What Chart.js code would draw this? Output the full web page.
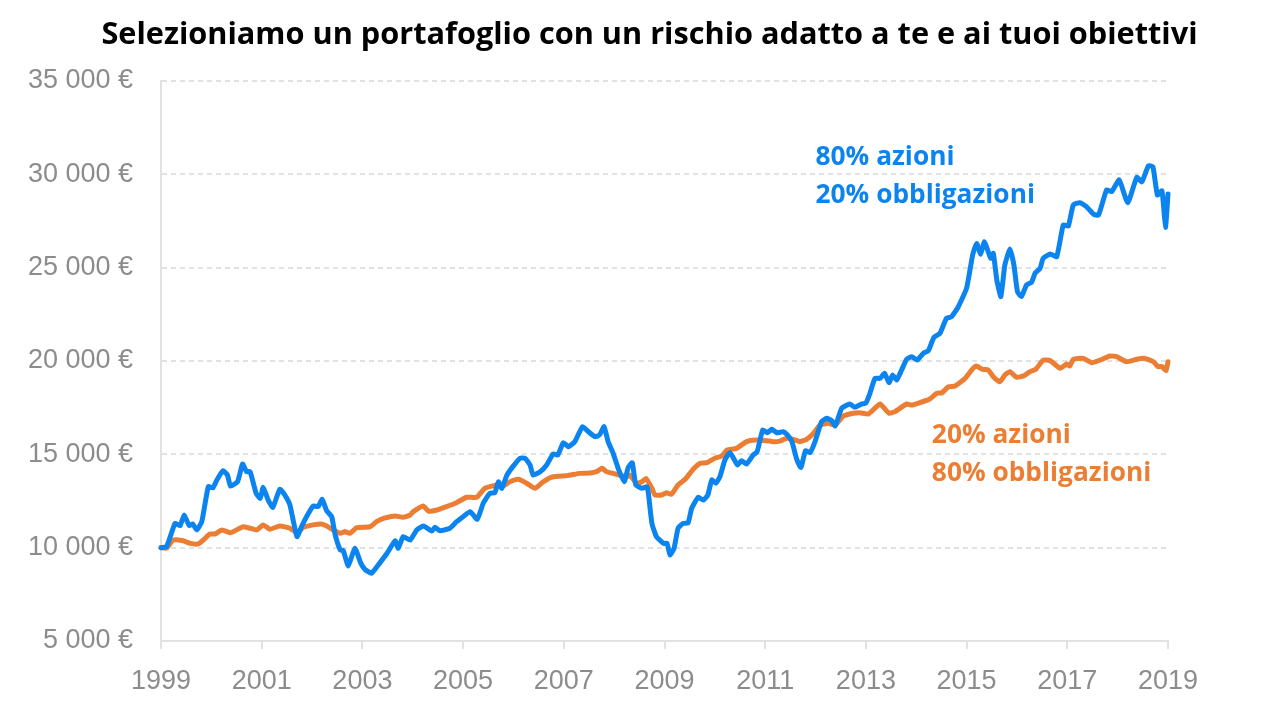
<!DOCTYPE html>
<html>
<head>
<meta charset="utf-8">
<script src="https://cdn.jsdelivr.net/npm/chart.js@4.4.1/dist/chart.umd.min.js"></script>
<style>
  html, body { margin: 0; padding: 0; background: #ffffff; }
  #wrap { width: 1273px; height: 726px; }
</style>
</head>
<body>
<div id="wrap"><canvas id="c" width="1273" height="726"></canvas></div>
<script>
// ---- DATA ----
const chartTitle = "Selezioniamo un portafoglio con un rischio adatto a te e ai tuoi obiettivi";

const xTickYears = [1999, 2001, 2003, 2005, 2007, 2009, 2011, 2013, 2015, 2017, 2019];
const yTickValues = [5000, 10000, 15000, 20000, 25000, 30000, 35000];

const seriesNames = ["80% azioni / 20% obbligazioni", "20% azioni / 80% obbligazioni"];

// 80% azioni / 20% obbligazioni
const aggressiveYears = [
  1999.00,1999.11,1999.28,1999.38,1999.46,1999.56,1999.63,1999.71,1999.81,1999.94,
  2000.03,2000.11,2000.23,2000.32,2000.38,2000.52,2000.62,2000.70,2000.77,2000.89,2000.97,
  2001.03,2001.13,2001.22,2001.36,2001.46,2001.56,2001.70,2001.79,2001.89,
  2002.02,2002.12,2002.20,2002.29,2002.39,2002.46,2002.56,2002.62,2002.72,2002.85,2002.97,
  2003.05,2003.18,2003.35,2003.49,2003.65,2003.71,2003.81,2003.95,
  2004.08,2004.21,2004.38,2004.44,2004.54,2004.74,2004.87,
  2005.00,2005.14,2005.28,2005.40,2005.53,2005.63,2005.70,2005.77,2005.87,
  2006.00,2006.13,2006.23,2006.33,2006.39,2006.53,2006.66,2006.79,2006.88,2006.99,
  2007.09,2007.22,2007.37,2007.49,2007.62,2007.71,2007.80,2007.88,2007.98,
  2008.08,2008.20,2008.28,2008.36,2008.43,2008.55,2008.65,2008.68,2008.75,2008.84,2008.98,
  2009.05,2009.11,2009.19,2009.27,2009.37,2009.47,2009.54,2009.67,2009.77,2009.86,2009.94,
  2010.02,2010.10,2010.20,2010.30,2010.45,2010.53,2010.63,2010.76,2010.84,2010.95,
  2011.04,2011.13,2011.23,2011.36,2011.44,2011.53,2011.63,2011.71,2011.80,2011.89,2011.99,
  2012.12,2012.22,2012.32,2012.39,2012.52,2012.68,2012.78,2012.92,
  2013.00,2013.08,2013.18,2013.28,2013.37,2013.46,2013.53,2013.61,2013.71,2013.81,2013.91,
  2014.02,2014.14,2014.24,2014.35,2014.47,2014.60,2014.70,2014.83,
  2015.00,2015.12,2015.20,2015.28,2015.35,2015.43,2015.48,2015.53,2015.60,2015.68,2015.76,2015.86,2015.94,
  2016.01,2016.09,2016.19,2016.29,2016.36,2016.46,2016.52,2016.66,2016.79,2016.92,
  2017.02,2017.12,2017.25,2017.38,2017.52,2017.62,2017.78,2017.88,
  2018.03,2018.20,2018.38,2018.48,2018.61,2018.70,2018.79,2018.88,2018.95,2019.00
];
const aggressiveValues = [
  10000,10050,11300,11180,11750,11180,11270,10950,11390,13270,
  13200,13625,14120,13890,13300,13530,14480,14070,14070,12910,12640,
  13230,12550,12160,13130,12820,12290,10590,11120,11660,
  12230,12200,12590,11980,11660,10680,9875,9840,9020,9970,9160,
  8840,8630,9200,9700,10370,9970,10590,10410,
  10950,11160,10890,11090,10910,11040,11390,
  11660,11930,11520,12380,12910,12940,13530,13180,13890,
  14380,14790,14790,14430,13890,14070,14430,15020,14960,15620,
  15410,15680,16480,16210,15945,16040,16480,15680,15055,
  14250,13530,14300,14550,13360,13180,13270,12910,11300,10590,10230,
  10230,9610,9970,11040,11300,11340,12110,12700,12550,12820,13630,
  13450,13800,14700,15090,14430,14660,14480,14960,15140,16300,
  16160,16340,16160,16210,16040,15680,14700,14300,15195,15090,15680,
  16750,16930,16800,16520,17470,17700,17520,17700,
  17750,18270,19070,19070,19340,18840,19250,18980,19520,20090,20230,
  20050,20410,20550,21270,21480,22290,22370,22880,
  23900,25680,26300,25720,26390,25850,25500,25770,24340,23450,25140,26000,25140,
  23710,23450,24070,24220,24700,24970,25500,25730,25590,27290,
  27230,28360,28480,28270,27870,27820,29160,29070,
  29700,28480,29840,29600,30450,30410,28890,29120,27160,28950
];

// 20% azioni / 80% obbligazioni
const conservativeYears = [
  1999.00,1999.11,1999.24,1999.44,1999.58,1999.74,1999.84,1999.97,
  2000.07,2000.21,2000.37,2000.47,2000.63,2000.77,2000.90,
  2001.03,2001.16,2001.36,2001.56,2001.70,2001.83,
  2002.02,2002.19,2002.29,2002.42,2002.56,2002.65,2002.75,2002.89,
  2003.15,2003.28,2003.42,2003.65,2003.81,2003.95,
  2004.01,2004.21,2004.31,2004.48,2004.67,2004.87,
  2005.07,2005.27,2005.43,2005.67,2005.77,2005.93,
  2006.10,2006.26,2006.43,2006.59,2006.79,
  2007.06,2007.32,2007.52,2007.65,2007.76,2007.85,
  2008.05,2008.25,2008.31,2008.45,2008.55,2008.63,2008.75,2008.81,2008.94,
  2009.04,2009.14,2009.27,2009.41,2009.57,2009.71,2009.84,
  2010.00,2010.14,2010.24,2010.43,2010.63,2010.80,
  2011.03,2011.16,2011.29,2011.43,2011.56,2011.69,2011.82,2011.96,
  2012.09,2012.25,2012.39,2012.55,2012.75,2012.88,
  2013.05,2013.18,2013.28,2013.46,2013.58,2013.81,2013.91,
  2014.07,2014.26,2014.41,2014.51,2014.64,2014.77,2014.97,
  2015.10,2015.19,2015.32,2015.43,2015.53,2015.66,2015.76,2015.86,2015.99,
  2016.13,2016.26,2016.38,2016.52,2016.66,2016.86,2016.99,
  2017.05,2017.12,2017.32,2017.48,2017.65,2017.85,2017.98,
  2018.18,2018.38,2018.54,2018.71,2018.80,2018.88,2018.96,2019.00
];
const conservativeValues = [
  10000,9970,10410,10370,10230,10200,10410,10730,
  10730,10950,10800,10910,11120,11040,10950,
  11220,10990,11160,11040,10800,11090,
  11220,11270,11160,10950,10770,10860,10770,11070,
  11120,11390,11570,11700,11630,11750,
  11930,12230,11960,12020,12200,12410,
  12700,12700,13180,13360,13270,13530,
  13660,13450,13180,13530,13800,
  13860,13980,14000,14070,14250,14070,
  13930,13800,13890,13450,13530,13710,13180,12820,12820,
  12940,12860,13360,13660,14200,14520,14550,
  14790,14910,15230,15320,15680,15770,
  15730,15680,15710,15860,15800,15680,15800,16130,
  16570,16660,16570,17050,17200,17230,
  17160,17470,17700,17200,17290,17700,17640,
  17770,17950,18270,18300,18620,18660,19070,
  19520,19730,19550,19520,19160,18890,19250,19430,19130,
  19200,19430,19570,20050,20020,19610,19840,
  19730,20090,20140,19910,20050,20270,20230,
  19960,20090,20140,19960,19700,19700,19480,19960
];

// ---- Styling ----
const BLUE = "#0b84ef";
const ORANGE = "#ec7e34";
const LABEL_GRAY = "#8c8c8c";
const GRID_GRAY = "#e2e2e2";

function toXY(xs, ys) { return xs.map((x, i) => ({ x: x, y: ys[i] })); }
function fmtEuro(v) {
  return String(v).replace(/\B(?=(\d{3})+(?!\d))/g, " ") + " €";
}

// Series labels drawn in the plot, anchored in data units
const seriesLabels = [
  { lines: ["80% azioni", "20% obbligazioni"], x: 2012.0, y: 30500, color: BLUE },
  { lines: ["20% azioni", "80% obbligazioni"], x: 2014.31, y: 15600, color: ORANGE }
];

const textPlugin = {
  id: "texts",
  afterDraw(chart) {
    const ctx = chart.ctx;
    const xs = chart.scales.x, ys = chart.scales.y;
    ctx.save();
    // title, centred on the canvas
    ctx.fillStyle = "#000000";
    ctx.font = "bold 30.7px 'Open Sans'";
    ctx.textAlign = "center";
    ctx.textBaseline = "alphabetic";
    ctx.fillText(chartTitle, chart.width / 2 + 13, 44);
    // series labels
    ctx.font = "bold 26.3px 'Open Sans'";
    ctx.textAlign = "left";
    seriesLabels.forEach(l => {
      ctx.fillStyle = l.color;
      const px = xs.getPixelForValue(l.x);
      const py = ys.getPixelForValue(l.y);
      l.lines.forEach((t, i) => ctx.fillText(t, px, py + i * 38));
    });
    ctx.restore();
  }
};

Chart.defaults.font.family = "'Liberation Sans', Arial, sans-serif";

new Chart(document.getElementById("c"), {
  type: "line",
  data: {
    datasets: [
      {
        label: seriesNames[0],
        data: toXY(aggressiveYears, aggressiveValues),
        borderColor: BLUE,
        backgroundColor: BLUE,
        borderWidth: 5,
        pointRadius: 0,
        tension: 0.15,
        borderJoinStyle: "round",
        borderCapStyle: "round",
        fill: false
      },
      {
        label: seriesNames[1],
        data: toXY(conservativeYears, conservativeValues),
        borderColor: ORANGE,
        backgroundColor: ORANGE,
        borderWidth: 5,
        pointRadius: 0,
        tension: 0.15,
        borderJoinStyle: "round",
        borderCapStyle: "round",
        fill: false
      }
    ]
  },
  options: {
    responsive: false,
    animation: false,
    devicePixelRatio: 1,
    clip: false,
    layout: { padding: { top: 81, left: 0, right: 105, bottom: 0 } },
    plugins: {
      legend: { display: false },
      tooltip: { enabled: false },
      title: { display: false }
    },
    scales: {
      x: {
        type: "linear",
        min: 1999,
        max: 2019,
        afterFit(scale) { scale.height = 85; },
        afterBuildTicks(scale) { scale.ticks = xTickYears.map(v => ({ value: v })); },
        ticks: {
          color: LABEL_GRAY,
          font: { size: 27 },
          padding: 16,
          maxRotation: 0,
          autoSkip: false,
          callback: (v) => String(v)
        },
        grid: {
          display: true,
          drawOnChartArea: false,
          drawTicks: true,
          tickLength: 8,
          color: GRID_GRAY,
          lineWidth: 2
        },
        border: { display: true, color: GRID_GRAY, width: 2 }
      },
      y: {
        min: 5000,
        max: 35000,
        afterFit(scale) { scale.width = 161; },
        afterBuildTicks(scale) { scale.ticks = yTickValues.map(v => ({ value: v })); },
        ticks: {
          color: LABEL_GRAY,
          font: { size: 27 },
          padding: 28,
          callback: (v) => fmtEuro(v)
        },
        grid: {
          display: true,
          drawTicks: false,
          color: GRID_GRAY,
          lineWidth: 2
        },
        border: { display: true, color: GRID_GRAY, width: 2, dash: [5, 4] }
      }
    }
  },
  plugins: [textPlugin]
});
</script>
</body>
</html>
